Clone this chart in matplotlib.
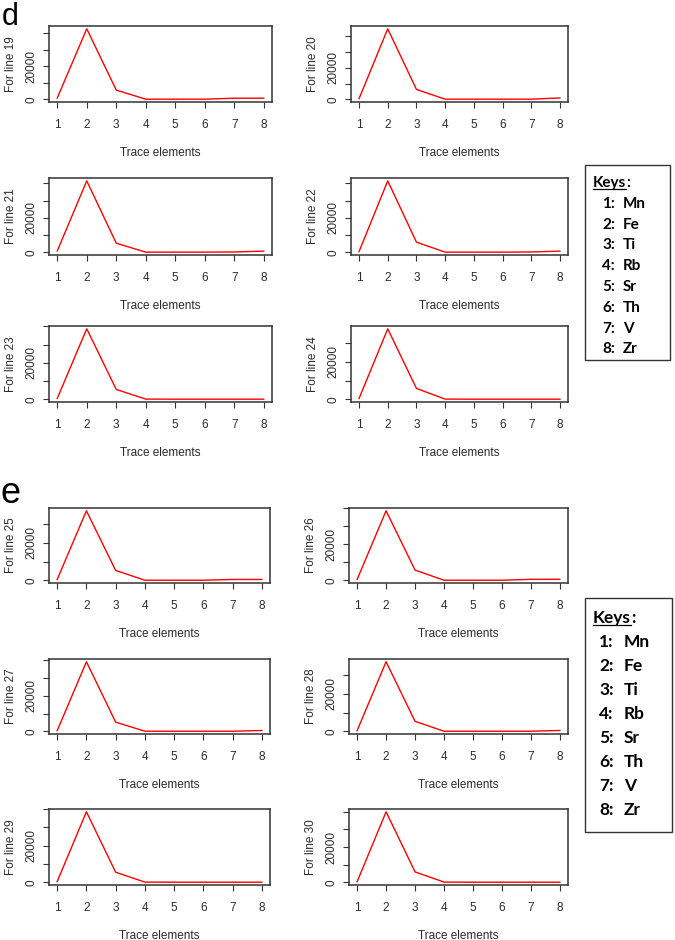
import matplotlib
matplotlib.use('Agg')
import matplotlib.pyplot as plt
from matplotlib.lines import Line2D

plt.rcParams['font.family'] = ['Liberation Sans', 'DejaVu Sans']

# x positions are the trace element numbers
elements = [1, 2, 3, 4, 5, 6, 7, 8]
keys = ['Mn', 'Fe', 'Ti', 'Rb', 'Sr', 'Th', 'V', 'Zr']

line_numbers = [19, 20, 21, 22, 23, 24, 25, 26, 27, 28, 29, 30]

line19 = [800, 42600, 5600, 100, 100, 100, 700, 700]
line20 = [400, 44800, 6300, 100, 100, 100, 100, 900]
line21 = [800, 41400, 5300, 100, 100, 100, 200, 700]
line22 = [400, 41400, 5900, 100, 100, 100, 200, 700]
line23 = [500, 38700, 5400, 100, 50, 50, 50, 50]
line24 = [400, 37700, 5800, 100, 50, 50, 50, 50]
line25 = [500, 37000, 5300, 100, 100, 100, 500, 500]
line26 = [500, 38500, 5700, 100, 100, 100, 600, 600]
line27 = [400, 39000, 5200, 100, 100, 100, 100, 500]
line28 = [400, 37200, 5400, 100, 100, 100, 100, 500]
line29 = [400, 38500, 5500, 100, 50, 50, 50, 50]
line30 = [300, 40000, 5900, 100, 50, 50, 50, 50]

all_lines = [line19, line20, line21, line22, line23, line24,
             line25, line26, line27, line28, line29, line30]

W, H = 675, 940
fig = plt.figure(figsize=(W / 100, H / 100), dpi=100)

# panel boxes in pixels: (left, top, right, bottom)
cols_d = [(49, 272), (351, 568)]
cols_e = [(49, 270), (349, 568)]
rows = [(26, 102), (178, 255), (326, 402), (508, 583), (659, 734), (809, 885)]

txt = '#2a2a2a'
box = '#333333'

for i, vals in enumerate(all_lines):
    r = i // 2
    c = i % 2
    cols = cols_d if r < 3 else cols_e
    x0, x1 = cols[c]
    y0, y1 = rows[r]
    ax = fig.add_axes([x0 / W, 1 - y1 / H, (x1 - x0) / W, (y1 - y0) / H])
    ax.plot(elements, vals, color='red', lw=1.0)
    lo, hi = min(vals), max(vals)
    rng = hi - lo
    ax.set_xlim(1 - 0.04 * 7, 8 + 0.04 * 7)
    ax.set_ylim(lo - 0.04 * rng, hi + 0.04 * rng)
    ax.set_xticks(elements)
    yt = [t for t in [0, 10000, 20000, 30000, 40000] if t <= hi + 0.04 * rng]
    ax.set_yticks(yt)
    ax.set_yticklabels([str(t) if t in (0, 20000) else '' for t in yt])
    for s in ax.spines.values():
        s.set_color(box)
        s.set_linewidth(1.1)
    ax.tick_params(axis='x', length=4.5, width=0.8, color=box, pad=8,
                   labelsize=8.5, labelcolor=txt)
    ax.tick_params(axis='y', length=4.5, width=0.8, color=box, pad=4,
                   labelsize=8.5, labelcolor=txt, labelrotation=90)
    for lbl in ax.get_yticklabels():
        lbl.set_va('center')
    ax.set_xlabel('Trace elements', fontsize=8.5, color=txt, labelpad=11)
    ax.set_ylabel('For line %d' % line_numbers[i], fontsize=8.5, color=txt,
                  labelpad=6)

# panel letters
fig.text(2 / W, 1 - 2 / H, 'd', fontsize=22, va='top', ha='left')
fig.text(0 / W, 1 - 476 / H, 'e', fontsize=26, va='top', ha='left')


def keys_box(left, top, right, bottom, fs, key_top, step, xn, xe):
    fig.add_artist(plt.Rectangle((left / W, 1 - bottom / H),
                                 (right - left) / W, (bottom - top) / H,
                                 fill=False, ec='#333333', lw=1.0,
                                 transform=fig.transFigure))
    renderer = fig.canvas.get_renderer()
    t = fig.text((left + 8) / W, 1 - key_top / H, 'Keys', fontsize=fs,
                 fontweight='bold', family=['Lato', 'DejaVu Sans'],
                 va='baseline')
    bb = t.get_window_extent(renderer)
    fig.text(bb.x1 / W, 1 - key_top / H, ':', fontsize=fs,
             fontweight='bold', family=['Lato', 'DejaVu Sans'], va='baseline')
    yline = 1 - (key_top + 2) / H
    fig.add_artist(Line2D([bb.x0 / W, bb.x1 / W], [yline, yline],
                          color='black', lw=0.9, transform=fig.transFigure))
    for k, name in enumerate(keys):
        yb = 1 - (key_top + step * (k + 1)) / H
        fig.text(xn / W, yb, '%d:' % (k + 1), fontsize=fs, fontweight='bold',
                 family=['Lato', 'DejaVu Sans'], va='baseline')
        fig.text(xe / W, yb, name, fontsize=fs, fontweight='bold',
                 family=['Lato', 'DejaVu Sans'], va='baseline')


keys_box(585, 165, 670, 360, 11, 187, 20.8, 602, 623)
keys_box(585, 598, 672, 832, 12.5, 623, 24, 599, 624)

fig.savefig('out.png', dpi=100)
